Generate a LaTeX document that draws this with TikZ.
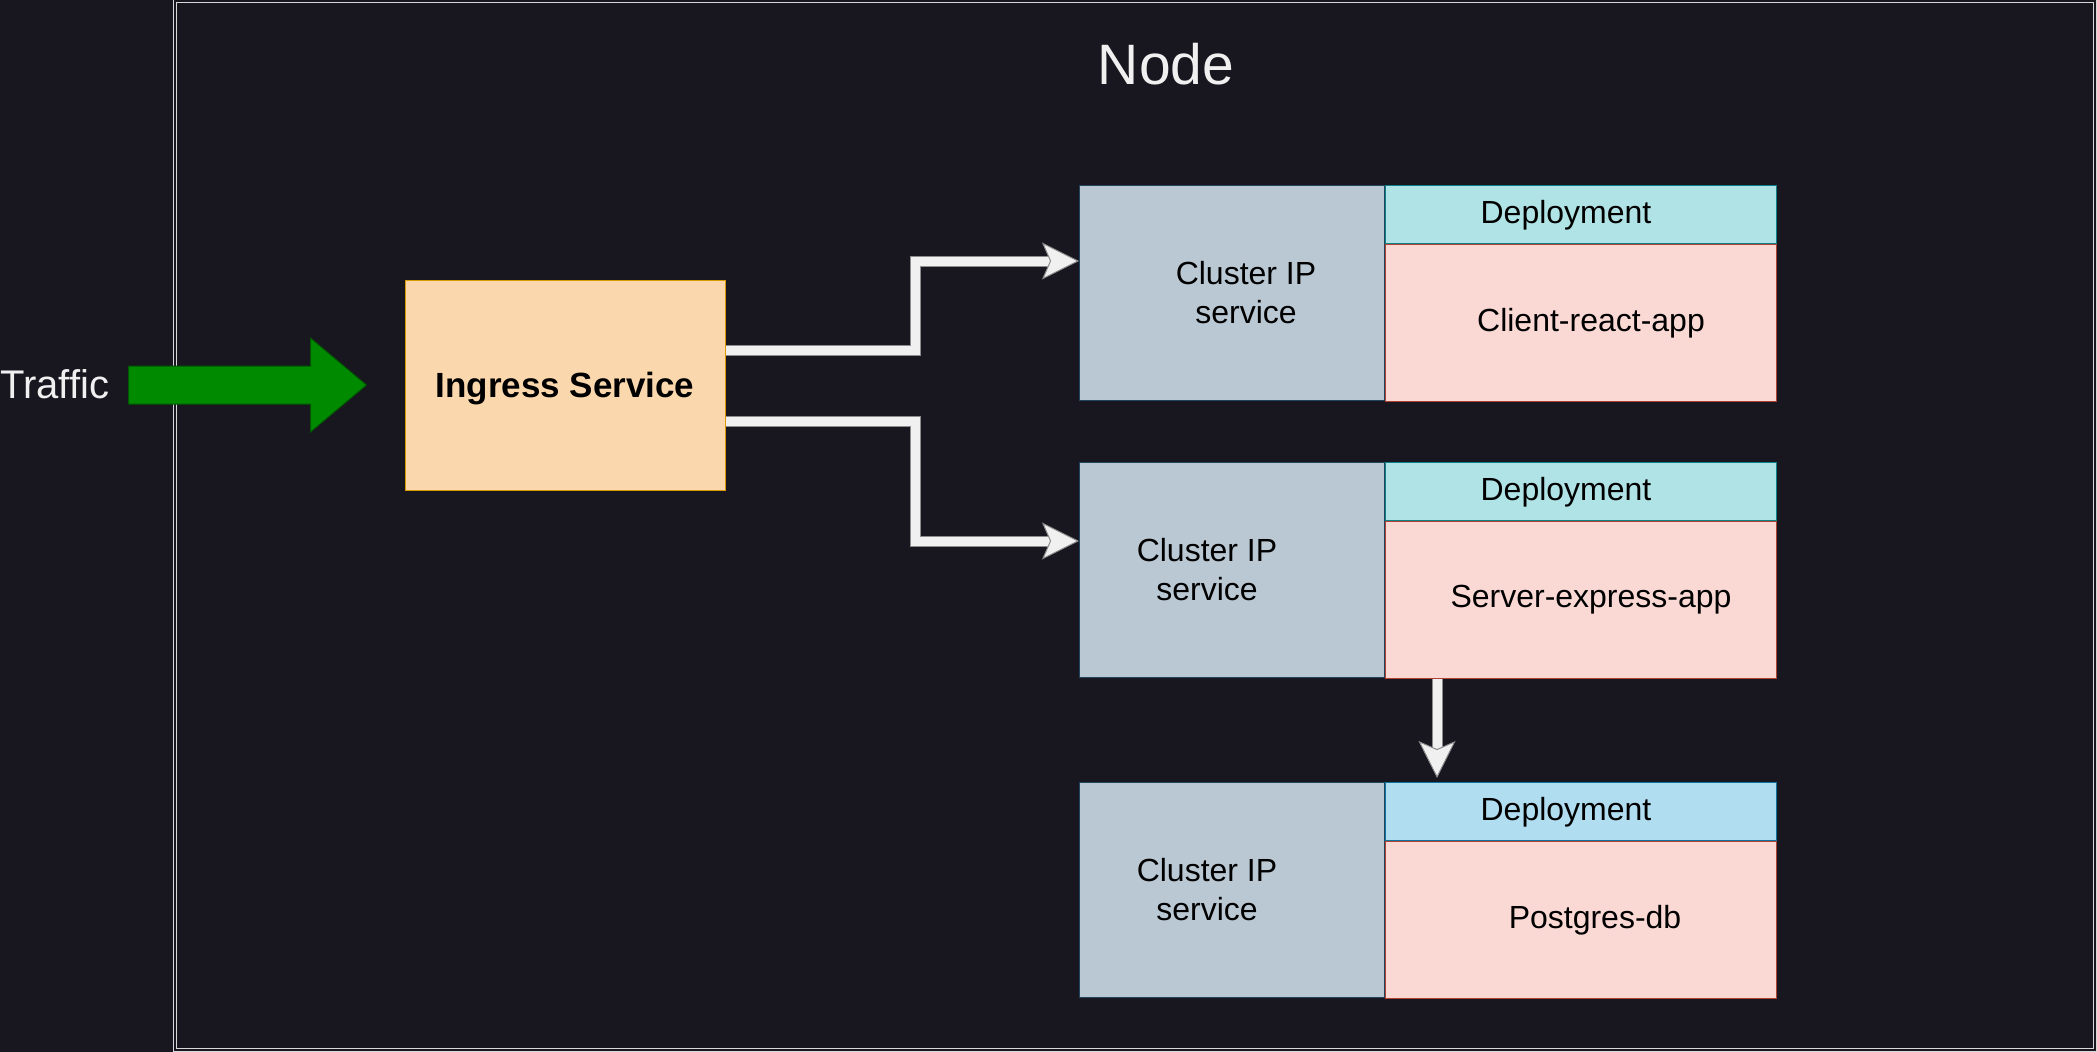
\documentclass[tikz,border=0pt]{standalone}
\usepackage{fontspec}
\setmainfont{Liberation Sans}
\usetikzlibrary{positioning, arrows.meta}

\definecolor{bgcol}{HTML}{18161F}
\definecolor{framecol}{HTML}{D8D8D8}
\definecolor{lighttext}{HTML}{F0F0F0}
\definecolor{ingressfill}{HTML}{FAD7AC}
\definecolor{ingressline}{HTML}{D79B00}
\definecolor{cipfill}{HTML}{BAC8D3}
\definecolor{cipline}{HTML}{23445D}
\definecolor{depfill}{HTML}{B0E3E6}
\definecolor{depline}{HTML}{0E8088}
\definecolor{dbfill}{HTML}{B1DDF0}
\definecolor{dbline}{HTML}{10739E}
\definecolor{appfill}{HTML}{FAD9D5}
\definecolor{appline}{HTML}{AE4132}
\definecolor{trafficfill}{HTML}{008A00}
\definecolor{trafficline}{HTML}{005700}
\definecolor{flowfill}{HTML}{F0F0F0}
\definecolor{flowline}{HTML}{8C8C8C}

\begin{document}
\begin{tikzpicture}[x=1pt, y=-1pt, node distance=0pt]
\tikzstyle{box} = [draw, line width=1pt, inner sep=0pt]
\tikzstyle{cip} = [box, fill=cipfill, draw=cipline, minimum width=305pt, minimum height=215pt]
\tikzstyle{dep} = [box, fill=depfill, draw=depline, minimum width=391pt, minimum height=58pt]
\tikzstyle{app} = [box, fill=appfill, draw=appline, minimum width=391pt, minimum height=157pt]
\tikzstyle{txt} = [font=\fontsize{32}{39}\selectfont, align=center, text=black, inner sep=0pt]
\tikzstyle{flowedge} = [line width=11pt, draw=flowline, shorten >=30pt]
\tikzstyle{flowtop} = [line width=9pt, draw=flowfill, -{Stealth[length=37pt, width=37pt, inset=8pt, line width=1pt, color=flowline, fill=flowfill]}]
\fill[bgcol] (0,0) rectangle (2097,1052);
\useasboundingbox (0,0) rectangle (2097,1052);
% the node frame
\node[draw=framecol, double=bgcol, double distance=2pt, line width=0.8pt, minimum width=1920pt, minimum height=1049pt] (nodebox) at (1135,525.5) {};
\node[text=lighttext, font=\fontsize{57}{68}\selectfont, inner sep=0pt] (nodetitle) at (1166,64) {Node};
% traffic and ingress
\node[text=lighttext, font=\fontsize{40}{48}\selectfont, inner sep=0pt, anchor=west] (traffic) at (0,384) {Traffic};
\node[box, fill=ingressfill, draw=ingressline, minimum width=320pt, minimum height=210pt, text depth=0pt, font=\fontsize{35}{42}\selectfont\bfseries] (ingress) at (565,385) {Ingress Service};
\coordinate (traffictip) at ([xshift=-38pt]ingress.west);
\filldraw[fill=trafficfill, draw=trafficline, line width=1pt] (traffictip) -- ++(-56,-47) -- ++(0,28) -- ++(-182,0) -- ++(0,38) -- ++(182,0) -- ++(0,28) -- cycle;
% cluster ip services and deployments
\node[cip, anchor=north west] (cip1) at (1079,185) {};
\node[cip, below=61pt of cip1] (cip2) {};
\node[cip, below=104pt of cip2] (cip3) {};
\node[dep, right=0pt of cip1.north east, anchor=north west] (dep1) {};
\node[dep, right=0pt of cip2.north east, anchor=north west] (dep2) {};
\node[dep, fill=dbfill, draw=dbline, right=0pt of cip3.north east, anchor=north west] (dep3) {};
\node[app, below=of dep1] (app1) {};
\node[app, below=of dep2] (app2) {};
\node[app, below=of dep3] (app3) {};
\node[txt] (cip1txt) at ([xshift=14pt]cip1.center) {Cluster IP\\service};
\node[txt] (cip2txt) at ([xshift=-25pt]cip2.center) {Cluster IP\\service};
\node[txt] (cip3txt) at ([xshift=-25pt]cip3.center) {Cluster IP\\service};
\node[txt] (dep1txt) at ([xshift=-15pt,yshift=-1pt]dep1.center) {Deployment};
\node[txt] (dep2txt) at ([xshift=-15pt,yshift=-1pt]dep2.center) {Deployment};
\node[txt] (dep3txt) at ([xshift=-15pt,yshift=-1pt]dep3.center) {Deployment};
\node[txt] (app1txt) at ([xshift=10pt]app1.center) {Client-react-app};
\node[txt] (app2txt) at ([xshift=10pt]app2.center) {Server-express-app};
\node[txt] (app3txt) at ([xshift=14pt]app3.center) {Postgres-db};
% flows
\draw[flowedge] ([yshift=35pt]ingress.east) -- ++(190,0) |- ([yshift=32pt]cip1.west);
\draw[flowedge] ([yshift=-36pt]ingress.east) -- ++(190,0) |- ([yshift=29pt]cip2.west);
\draw[flowedge] ([xshift=52pt]app2.south west) -- ([xshift=52pt,yshift=4pt]dep3.north west);
\draw[flowtop] ([yshift=35pt]ingress.east) -- ++(190,0) |- ([yshift=32pt]cip1.west);
\draw[flowtop] ([yshift=-36pt]ingress.east) -- ++(190,0) |- ([yshift=29pt]cip2.west);
\draw[flowtop] ([xshift=52pt]app2.south west) -- ([xshift=52pt,yshift=4pt]dep3.north west);
\end{tikzpicture}
\end{document}
